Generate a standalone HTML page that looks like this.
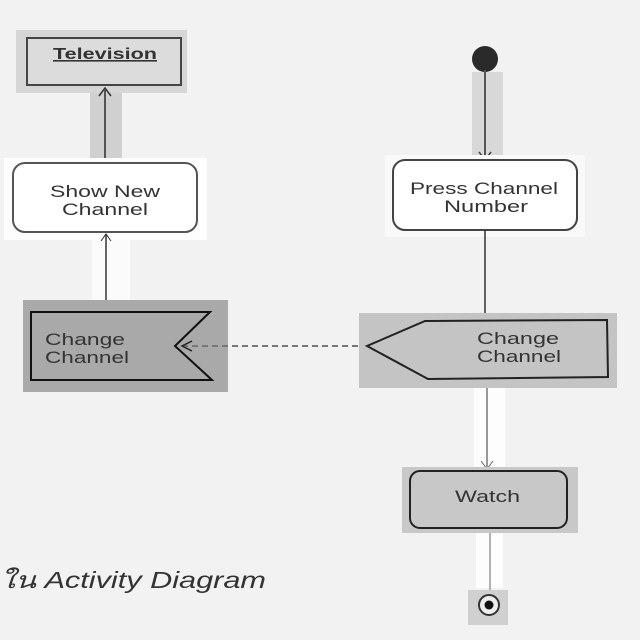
<!DOCTYPE html>
<html><head><meta charset="utf-8"><style>
html,body{margin:0;padding:0;background:#f2f2f2;}
svg{display:block;}
text{font-family:"Liberation Sans","DejaVu Sans",sans-serif;fill:#333;}
</style></head><body>
<svg width="640" height="640" viewBox="0 0 640 640" xmlns="http://www.w3.org/2000/svg">
<rect width="640" height="640" fill="#f2f2f2"/>
<!-- Television -->
<rect x="16" y="30" width="171" height="63" fill="#d6d6d6"/>
<rect x="27" y="38" width="154" height="47" fill="#dcdcdc" stroke="#444" stroke-width="2"/>
<text x="53" y="59" font-size="16" textLength="104" lengthAdjust="spacingAndGlyphs" text-decoration="underline" font-weight="bold" fill="#555">Television</text>
<rect x="90" y="93" width="32" height="70" fill="#d0d0d0"/>
<line x1="105" y1="90" x2="105" y2="163" stroke="#555" stroke-width="2"/>
<path d="M99,96 L105,88 L111,96" fill="none" stroke="#333" stroke-width="1.5"/>
<!-- Show New Channel -->
<rect x="4" y="158" width="203" height="82" fill="#fdfdfd"/>
<rect x="13" y="163" width="184" height="69" rx="12" fill="#fff" stroke="#555" stroke-width="2"/>
<text x="50" y="197" font-size="17" textLength="110" lengthAdjust="spacingAndGlyphs" fill="#555">Show New</text>
<text x="62" y="215" font-size="17" textLength="86" lengthAdjust="spacingAndGlyphs" fill="#555">Channel</text>
<rect x="92" y="240" width="38" height="62" fill="#fbfbfb"/>
<line x1="106" y1="234" x2="106" y2="305" stroke="#333" stroke-width="1.5"/>
<path d="M101,241 L106,234 L111,241" fill="none" stroke="#333" stroke-width="1"/>
<!-- Change Channel left -->
<rect x="23" y="300" width="205" height="92" fill="#a9a9a9"/>
<path d="M31,312 L210,312 L175,346 L212,380 L31,380 Z" fill="#a9a9a9" stroke="#111" stroke-width="2"/>
<text x="45" y="345" font-size="17" textLength="80" lengthAdjust="spacingAndGlyphs" fill="#111">Change</text>
<text x="45" y="363" font-size="17" textLength="84" lengthAdjust="spacingAndGlyphs" fill="#111">Channel</text>
<!-- dashed -->
<line x1="182" y1="346" x2="365" y2="346" stroke="#777" stroke-width="2" stroke-dasharray="6,4"/>
<path d="M192,341 L182,346 L192,351" fill="none" stroke="#222" stroke-width="1.5"/>
<!-- start -->
<rect x="472" y="72" width="31" height="88" fill="#d8d8d8"/>
<circle cx="485" cy="59" r="13" fill="#2a2a2a"/>
<line x1="485" y1="70" x2="485" y2="160" stroke="#555" stroke-width="2"/>
<path d="M479,152 L485,160 L491,152" fill="none" stroke="#444" stroke-width="1.5"/>
<!-- Press Channel Number -->
<rect x="385" y="155" width="200" height="82" fill="#f9f9f9"/>
<rect x="393" y="160" width="184" height="70" rx="12" fill="#fff" stroke="#444" stroke-width="2"/>
<text x="410" y="194" font-size="17" textLength="148" lengthAdjust="spacingAndGlyphs" fill="#555">Press Channel</text>
<text x="444" y="212" font-size="17" textLength="84" lengthAdjust="spacingAndGlyphs" fill="#555">Number</text>
<line x1="485" y1="230" x2="485" y2="320" stroke="#333" stroke-width="1.5"/>
<path d="M480,313 L485,320 L490,313" fill="none" stroke="#444" stroke-width="1"/>
<!-- Change Channel right -->
<rect x="359" y="313" width="258" height="75" fill="#c4c4c4"/>
<path d="M425,321 L607,320 L608,377 L428,379 L367,346 Z" fill="#c4c4c4" stroke="#222" stroke-width="2"/>
<text x="477" y="344" font-size="17" textLength="82" lengthAdjust="spacingAndGlyphs" fill="#222">Change</text>
<text x="477" y="362" font-size="17" textLength="84" lengthAdjust="spacingAndGlyphs" fill="#222">Channel</text>
<!-- to Watch -->
<rect x="474" y="388" width="31" height="80" fill="#fdfdfd"/>
<line x1="487" y1="388" x2="487" y2="470" stroke="#777" stroke-width="1.5"/>
<path d="M481,461 L487,469 L493,461" fill="none" stroke="#666" stroke-width="1"/>
<!-- Watch -->
<rect x="402" y="467" width="176" height="66" fill="#c8c8c8"/>
<rect x="410" y="471" width="157" height="57" rx="10" fill="#c8c8c8" stroke="#222" stroke-width="2"/>
<text x="455" y="502" font-size="17" textLength="65" lengthAdjust="spacingAndGlyphs" fill="#222">Watch</text>
<rect x="476" y="533" width="27" height="55" fill="#fdfdfd"/>
<line x1="490" y1="533" x2="490" y2="592" stroke="#999" stroke-width="1.5"/>
<!-- end -->
<rect x="468" y="590" width="40" height="35" fill="#d0d0d0"/>
<circle cx="489" cy="605" r="10" fill="#eee" stroke="#333" stroke-width="2"/>
<circle cx="489" cy="605" r="4.5" fill="#111"/>
<!-- caption -->
<text x="0" y="588" font-size="23" font-style="italic" textLength="266" lengthAdjust="spacingAndGlyphs" fill="#333">ใน Activity Diagram</text>
</svg>
</body></html>
